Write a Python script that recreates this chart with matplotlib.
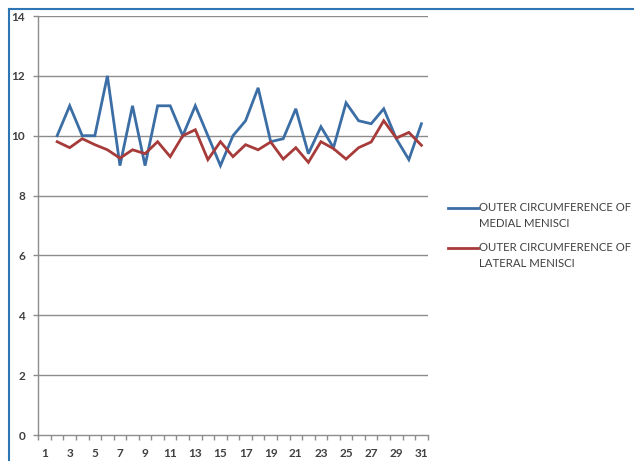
import matplotlib
matplotlib.use("Agg")
import matplotlib.pyplot as plt
from matplotlib.lines import Line2D
import numpy as np

plt.rcParams['font.family'] = ['Lato', 'DejaVu Sans']

# Data
categories = list(range(1, 32))
x_points = list(range(2, 32))
medial = [10, 11, 10, 10, 12, 9, 11, 9, 11, 11, 10, 11, 10, 9, 10, 10.5, 11.6,
          9.8, 9.9, 10.9, 9.4, 10.3, 9.6, 11.1, 10.5, 10.4, 10.9, 9.9, 9.2, 10.4]
lateral = [9.8, 9.6, 9.9, 9.7, 9.53, 9.25, 9.53, 9.4, 9.8, 9.3, 10.0, 10.2, 9.2,
           9.8, 9.3, 9.7, 9.53, 9.79, 9.22, 9.6, 9.11, 9.8, 9.57, 9.22, 9.6, 9.79,
           10.5, 9.92, 10.11, 9.68]
series_labels = ["OUTER CIRCUMFERENCE OF\nMEDIAL MENISCI",
                 "OUTER CIRCUMFERENCE OF\nLATERAL MENISCI"]
y_ticks = [0, 2, 4, 6, 8, 10, 12, 14]
x_tick_labels = [str(c) for c in categories if c % 2 == 1]

W, H = 634, 461
fig = plt.figure(figsize=(W / 100, H / 100), dpi=100)

def fx(px):
    return px / W

def fy(py):
    return 1 - py / H

left, right, top, bottom = 38.3, 427.7, 16, 435
ax = fig.add_axes([fx(left), fy(bottom), fx(right - left), (bottom - top) / H])

blue = '#3C6EA6'
red = '#A63B3A'
grid_c = '#8C8C8C'
text_c = '#404040'

ax.plot(x_points, medial, color=blue, lw=2.0, solid_joinstyle='miter', zorder=3)
ax.plot(x_points, lateral, color=red, lw=2.0, solid_joinstyle='miter', zorder=3)

ax.set_xlim(0.5, 31.5)
ax.set_ylim(0, 14)
ax.set_yticks(y_ticks)
ax.set_yticklabels([str(v) for v in y_ticks])
ax.set_xticks([c for c in categories if c % 2 == 1])
ax.set_xticklabels(x_tick_labels)
ax.set_xticks(np.arange(0.5, 32, 1.0), minor=True)

for yv in y_ticks[1:]:
    ax.axhline(yv, color=grid_c, lw=1.0, zorder=1)

for s in ['top', 'right']:
    ax.spines[s].set_visible(False)
for s in ['left', 'bottom']:
    ax.spines[s].set_color(grid_c)
    ax.spines[s].set_linewidth(1.0)

ax.tick_params(axis='y', direction='out', length=3.5, width=1.0, color=grid_c,
               labelsize=8.5, labelcolor=text_c, pad=6)
ax.tick_params(axis='x', which='major', length=0, labelsize=8.5,
               labelcolor=text_c, pad=9)
ax.tick_params(axis='x', which='minor', direction='out', length=3.5, width=1.0,
               color=grid_c)
for lab in ax.get_yticklabels() + ax.get_xticklabels():
    lab.set_fontweight('bold')

# Legend (manual)
legend_items = [(blue, 208), (red, 248)]
for (col, ly), label in zip(legend_items, series_labels):
    fig.add_artist(Line2D([fx(448), fx(478)], [fy(ly), fy(ly)], color=col, lw=2.0,
                          transform=fig.transFigure))
    fig.text(fx(479), fy(ly - 6), label, color=text_c, fontsize=8.2,
             va='top', ha='left', linespacing=1.6)

# Blue frame lines (left and top)
frame_c = '#2E75B6'
fig.add_artist(Line2D([fx(9), fx(9)], [fy(9), 0], color=frame_c, lw=1.5,
                      transform=fig.transFigure))
fig.add_artist(Line2D([fx(9), 1], [fy(9), fy(9)], color=frame_c, lw=1.5,
                      transform=fig.transFigure))

fig.savefig('out.png', dpi=100)
